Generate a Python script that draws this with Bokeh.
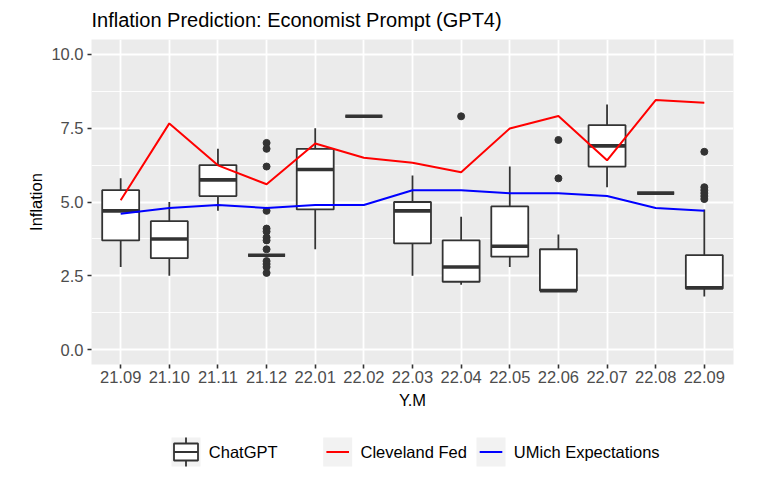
from bokeh.plotting import figure
from bokeh.models import Range1d, FixedTicker
from bokeh.layouts import column
from bokeh.embed import file_html
from bokeh.resources import INLINE
from bokeh.core.properties import value

# ---------------- data ----------------
categories = ["21.09", "21.10", "21.11", "21.12", "22.01", "22.02", "22.03",
              "22.04", "22.05", "22.06", "22.07", "22.08", "22.09"]

box_lower  = [2.8, 2.5, 4.7, 3.2, 3.4, 7.9, 2.5, 2.2, 2.8, 2.0, 5.5, 5.3, 1.8]
box_q1     = [3.7, 3.1, 5.2, 3.2, 4.75, 7.9, 3.6, 2.3, 3.15, 2.0, 6.2, 5.3, 2.07]
box_median = [4.7, 3.75, 5.75, 3.2, 6.1, 7.9, 4.7, 2.8, 3.5, 2.0, 6.9, 5.3, 2.1]
box_q3     = [5.4, 4.35, 6.25, 3.2, 6.8, 7.9, 5.0, 3.7, 4.85, 3.4, 7.6, 5.3, 3.2]
box_upper  = [5.8, 5.0, 6.8, 3.2, 7.5, 7.9, 5.9, 4.5, 6.2, 3.9, 8.3, 5.3, 4.75]

outlier_month = ["21.12"] * 13 + ["22.04"] + ["22.06"] * 2 + ["22.09"] * 6
outlier_value = [7.0, 6.8, 6.2, 4.7, 4.1, 4.0, 3.8, 3.7, 3.4, 3.0, 2.9, 2.8, 2.6,
                 7.9,
                 7.1, 5.8,
                 6.7, 5.5, 5.4, 5.3, 5.2, 5.1]

cleveland_fed = [5.06, 7.66, 6.24, 5.60, 6.98, 6.50, 6.33, 6.01, 7.49, 7.91, 6.41, 8.45, 8.36]
umich         = [4.6, 4.8, 4.9, 4.8, 4.9, 4.9, 5.4, 5.4, 5.3, 5.3, 5.2, 4.8, 4.7]

y_ticks = [0, 2.5, 5, 7.5, 10]
y_tick_labels = ["0.0", "2.5", "5.0", "7.5", "10.0"]
y_minor = [1.25, 3.75, 6.25, 8.75]

legend_labels = ["ChatGPT", "Cleveland Fed", "UMich Expectations"]

# ---------------- styling ----------------
FONT = "Liberation Sans"
FS = "16.5px"
DARK = "#333333"
RED = "#FF0000"
BLUE = "#0000FF"
BW = 0.76
W = 753
BL, BR = 91, 20          # left / right borders (frame from 91 to 733)
BT, BB = 39, 64
H_MAIN = 428

xpos = [i + 1 for i in range(len(categories))]
pos_of = {c: i + 1 for i, c in enumerate(categories)}

p = figure(width=W, height=H_MAIN,
           frame_width=W - BL - BR, frame_height=H_MAIN - BT - BB,
           x_range=Range1d(0.4, len(categories) + 0.6),
           y_range=Range1d(-0.5, 10.5),
           output_backend="svg", toolbar_location=None,
           min_border_left=BL, min_border_right=BR,
           min_border_top=BT, min_border_bottom=BB,
           title="Inflation Prediction: Economist Prompt (GPT4)")

p.background_fill_color = "#EBEBEB"
p.border_fill_color = "white"
p.outline_line_color = None

p.title.text_font = FONT
p.title.text_font_size = "20px"
p.title.text_font_style = "normal"
p.title.text_color = "black"
p.title.standoff = 13
p.title.vertical_align = "top"

# grid
p.xgrid.ticker = FixedTicker(ticks=xpos)
p.xgrid.grid_line_color = "white"
p.xgrid.grid_line_width = 1.8
p.ygrid.ticker = FixedTicker(ticks=y_ticks, minor_ticks=y_minor)
p.ygrid.grid_line_color = "white"
p.ygrid.grid_line_width = 1.8
p.ygrid.minor_grid_line_color = "white"
p.ygrid.minor_grid_line_width = 0.9

# axes
p.xaxis.ticker = FixedTicker(ticks=xpos)
p.xaxis.major_label_overrides = {x: c for x, c in zip(xpos, categories)}
p.yaxis.ticker = FixedTicker(ticks=y_ticks)
p.yaxis.major_label_overrides = {t: l for t, l in zip(y_ticks, y_tick_labels)}
p.xaxis.axis_label = "Y.M"
p.yaxis.axis_label = "Inflation"
for ax in (p.xaxis, p.yaxis):
    ax.axis_line_color = None
    ax.major_tick_line_color = DARK
    ax.major_tick_line_width = 1.6
    ax.major_tick_out = 4
    ax.major_tick_in = 0
    ax.minor_tick_line_color = None
    ax.major_label_text_font = FONT
    ax.major_label_text_font_size = FS
    ax.major_label_text_color = "#4D4D4D"
    ax.axis_label_text_font = FONT
    ax.axis_label_text_font_size = FS
    ax.axis_label_text_font_style = "normal"
    ax.axis_label_text_color = "black"
p.xaxis.major_label_standoff = 2
p.xaxis.axis_label_standoff = 5
p.yaxis.major_label_standoff = 4
p.yaxis.axis_label_standoff = 3

# boxplots
p.segment(xpos, box_q3, xpos, box_upper, line_color=DARK, line_width=1.8)
p.segment(xpos, box_q1, xpos, box_lower, line_color=DARK, line_width=1.8)
p.vbar(x=xpos, width=BW, top=box_q3, bottom=box_q1,
       fill_color="white", line_color=DARK, line_width=1.8)
p.segment([x - BW / 2 for x in xpos], box_median, [x + BW / 2 for x in xpos], box_median,
          line_color=DARK, line_width=3.6)
p.scatter([pos_of[m] for m in outlier_month], outlier_value, size=7,
          fill_color=DARK, line_color=DARK)

# lines
p.line(xpos, cleveland_fed, line_color=RED, line_width=2)
p.line(xpos, umich, line_color=BLUE, line_width=2)

# ---------------- legend (separate strip, pixel coordinates) ----------------
LH = 40
leg = figure(width=W, height=LH, frame_width=W - BL - BR, frame_height=LH,
             x_range=Range1d(BL, W - BR), y_range=Range1d(0, LH),
             output_backend="svg", toolbar_location=None,
             x_axis_type=None, y_axis_type=None,
             min_border_left=BL, min_border_right=BR, min_border_top=0, min_border_bottom=0)
leg.outline_line_color = None
leg.background_fill_color = "white"
leg.border_fill_color = "white"
leg.grid.visible = False

KEY = 29
key_left = [171, 322.7, 476]
key_cx = [k + KEY / 2 for k in key_left]
key_cy = 16.5
leg.rect(x=key_cx, y=[key_cy] * 3, width=KEY, height=KEY, fill_color="#F2F2F2", line_color=None)
# boxplot icon
bx = key_cx[0]
leg.segment([bx, bx], [key_cy + 8.5, key_cy - 8.5], [bx, bx], [key_cy + KEY / 2, key_cy - KEY / 2],
            line_color=DARK, line_width=1.8)
leg.rect(x=[bx], y=[key_cy], width=24, height=17, fill_color="white", line_color=DARK, line_width=1.8)
leg.segment([bx - 12], [key_cy], [bx + 12], [key_cy], line_color=DARK, line_width=1.8)
# line keys
leg.segment([key_cx[1] - 11.3, key_cx[2] - 11.3], [key_cy, key_cy],
            [key_cx[1] + 11.3, key_cx[2] + 11.3], [key_cy, key_cy],
            line_color=[RED, BLUE], line_width=2)
leg.text(x=[k + KEY + 8.3 for k in key_left], y=[key_cy] * 3, text=legend_labels,
         text_font=value(FONT), text_font_size=FS, text_color="black",
         text_baseline="middle", text_align="left")

layout = column(p, leg, spacing=0)
open("out.html", "w").write(file_html(layout, INLINE))
